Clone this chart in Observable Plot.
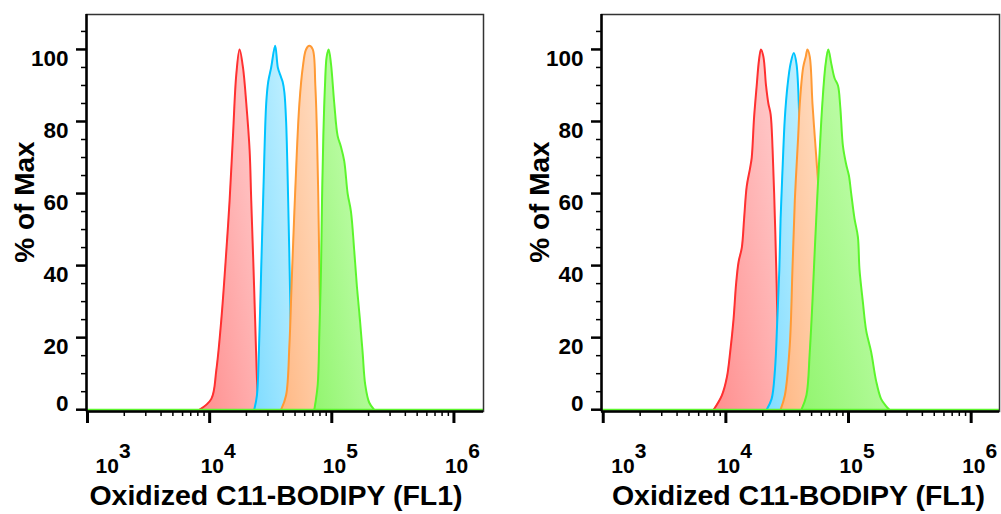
<!DOCTYPE html>
<html><head><meta charset="utf-8">
<script src="https://cdn.jsdelivr.net/npm/d3@7"></script>
<script src="https://cdn.jsdelivr.net/npm/@observablehq/plot@0.6"></script>
<style>
body{margin:0;background:#fff;}
#wrap{position:relative;width:1001px;height:514px;display:flex;}
#wrap svg{display:block;}
</style></head><body>
<svg width="0" height="0" style="position:absolute"><defs id="gdefs"></defs></svg>
<div id="wrap"></div>
<script>
// ---- data: [intensity (FL1), % of max] ----
const aRed = [[8280,0],[10320,3],[11340,11],[12460,25],[13690,44],[14560,58],[15520,76],[16520,93],[17580,100],[18740,95],[19950,85],[21240,72],[21900,58],[22870,39],[23750,21],[24500,7],[25130,1],[25700,0]];
const aBlue = [[23170,0],[24380,4],[25300,16],[26420,39],[27600,62],[29040,85],[30150,91],[31890,95],[34380,101],[36150,95],[37760,93],[39590,91],[40930,88],[42260,80],[43470,65],[44770,45],[46030,25],[47310,8],[48640,1],[50080,0]];
const aOrange = [[38460,0],[42260,4],[44980,18],[46890,35],[49390,55],[51660,71],[54290,85],[57850,95],[61540,100],[65480,101],[69820,100],[73300,90],[75680,76],[77560,58],[79070,39],[80580,21],[82400,8],[84730,1],[86300,0]];
const aGreen = [[71960,0],[76700,7],[79070,21],[81600,39],[83180,58],[85280,76],[87960,90],[90820,98],[94320,100],[98480,96],[104760,85],[111620,76],[118790,73],[126420,69],[134830,60],[143500,55],[152730,44],[160690,34],[169900,25],[178700,16],[187700,7],[202300,2],[222100,0]];

const bRed = [[7945,0],[9280,4],[10190,9],[10840,16],[11540,25],[12120,35],[12690,41],[13490,45],[14080,53],[14790,62],[15740,67],[16250,70],[16970,81],[17840,90],[18620,97],[19320,100],[20220,98],[21240,90],[22200,85],[23170,82],[24050,72],[25100,53],[25930,35],[26420,21],[26920,7],[27930,0]];
const bBlue = [[21500,0],[23600,3],[25120,11],[26260,25],[27280,39],[27930,53],[28990,67],[30260,81],[31830,90],[33660,96],[35800,99],[37640,96],[39290,85],[40340,68],[41320,55],[42930,35],[44550,15],[46240,3],[47990,0]];
const bOrange = [[27930,0],[30260,4],[33200,18],[34900,39],[36470,58],[38880,76],[40060,85],[42680,95],[44800,98],[46240,100],[48300,98],[50800,85],[53000,76],[55430,67],[57560,58],[58930,39],[61170,21],[62700,7],[64120,0]];
const bGreen = [[41320,0],[45390,4],[48300,16],[50800,30],[53000,44],[55430,58],[58230,72],[61170,85],[65060,96],[68390,100],[72400,96],[76960,92],[82000,90],[85650,84],[90150,73],[95800,68],[100700,65],[105150,60],[111900,53],[119200,48],[122800,39],[130800,30],[139200,22],[152900,16],[167800,8],[184200,3],[202200,1],[215200,0]];

const seriesNames = ["red","blue","orange","green"];
const strokeColors = ["#ff3030","#00c3ff","#ff9a35","#5cf52c"];
const fillDark = ["#ff8e8e","#7fdcff","#ffb884","#92f56f"];
const fillLight = ["#ffd0d0","#c9f2ff","#ffe0c8","#d0ffc0"];

const xMajor = [1e3,1e4,1e5,1e6];
const xExponents = ["3","4","5","6"];
const yMajor = [0,20,40,60,80,100];
const yMinor = [5,10,15,25,30,35,45,50,55,65,70,75,85,90,95,105];
const xTitle = "Oxidized C11-BODIPY (FL1)";
const yTitle = "% of Max";

// gradients
const defs = d3.select("#gdefs");
seriesNames.forEach((n,i)=>{
  const g = defs.append("linearGradient").attr("id","g-"+n)
    .attr("x1",0).attr("y1",1).attr("x2",1).attr("y2",0);
  g.append("stop").attr("offset","0%").attr("stop-color",fillDark[i]);
  g.append("stop").attr("offset","100%").attr("stop-color",fillLight[i]);
});

const xMinor = [];
for (const m of xMajor) for (let k=2;k<=9;k++) xMinor.push(m*k);

function panel(sets, cfg){
  const marks = [];
  sets.forEach((s,i)=>{
    const rows = s.map(([x,y])=>({x,y}));
    marks.push(Plot.areaY(rows,{x:"x",y:"y",fill:`url(#g-${seriesNames[i]})`,curve:"catmull-rom"}));
    marks.push(Plot.lineY(rows,{x:"x",y:"y",stroke:strokeColors[i],strokeWidth:2,curve:"catmull-rom"}));
  });
  marks.push(Plot.ruleY([0],{stroke:strokeColors[3],strokeWidth:2}));
  marks.push(Plot.frame({stroke:"#333",strokeWidth:1.5}));
  marks.push(Plot.ruleX([cfg.xDomain[0]],{stroke:"#000",strokeWidth:2.5}));
  marks.push(Plot.ruleY([cfg.yDomain[0]],{stroke:"#000",strokeWidth:2.5}));
  // ticks
  marks.push(Plot.axisY(yMajor,{tickSize:10,strokeWidth:2.5,tickFormat:()=>"",label:null}));
  marks.push(Plot.axisY(yMinor,{tickSize:5,strokeWidth:1.5,tickFormat:()=>"",label:null}));
  marks.push(Plot.axisX(xMajor,{tickSize:12,strokeWidth:3,tickFormat:()=>"",label:null}));
  marks.push(Plot.axisX(xMinor.filter(v=>v<cfg.xDomain[1]),{tickSize:5,strokeWidth:1.5,tickFormat:()=>"",label:null}));
  // y tick labels
  marks.push(Plot.text(yMajor.filter(v=>v>0),{y:d=>d,text:d=>String(d),frameAnchor:"left",textAnchor:"end",dx:-18,dy:9,fontSize:22.5,fill:"#000"}));
  marks.push(Plot.text([0],{y:d=>d,text:d=>String(d),frameAnchor:"left",textAnchor:"end",dx:-18,dy:-6,fontSize:22.5,fill:"#000"}));
  // x tick labels
  const lab = xMajor.map((v,i)=>({v,e:xExponents[i]}));
  const first = lab.slice(0,1), rest = lab.slice(1);
  for (const [arr,off] of [[first,8],[rest,-9]]) {
    marks.push(Plot.text(arr,{x:"v",text:()=>"10",frameAnchor:"bottom",textAnchor:"start",lineAnchor:"bottom",dx:off,dy:61,fontSize:21,fill:"#000"}));
    marks.push(Plot.text(arr,{x:"v",text:"e",frameAnchor:"bottom",textAnchor:"start",lineAnchor:"bottom",dx:off+23.4,dy:46,fontSize:21,fill:"#000"}));
  }
  // titles
  marks.push(Plot.text([xTitle],{text:d=>d,frameAnchor:"bottom",textAnchor:"middle",lineAnchor:"bottom",dx:cfg.titleDx,dy:93,fontSize:28.5,fill:"#000"}));
  marks.push(Plot.text([yTitle],{text:d=>d,frameAnchor:"left",textAnchor:"middle",lineAnchor:"middle",rotate:-90,dx:-61,dy:-11,fontSize:28,fill:"#000"}));

  return Plot.plot({
    width:cfg.width,height:514,
    marginLeft:cfg.ml,marginRight:cfg.mr,marginTop:14,marginBottom:103,
    x:{type:"log",domain:cfg.xDomain,axis:null},
    y:{domain:cfg.yDomain,axis:null},
    style:{fontFamily:"'Liberation Sans', Arial, sans-serif",fontWeight:"bold",background:"transparent",overflow:"visible"},
    marks
  });
}

const wrap = document.getElementById("wrap");
wrap.appendChild(panel([aRed,aBlue,aOrange,aGreen],{width:500,ml:86,mr:17,xDomain:[981,1746000],yDomain:[-0.5,109.7],titleDx:-9}));
wrap.appendChild(panel([bRed,bBlue,bOrange,bGreen],{width:501,ml:101,mr:2,xDomain:[968,1702000],yDomain:[-0.5,109.7],titleDx:-2}));
</script>
</body></html>
